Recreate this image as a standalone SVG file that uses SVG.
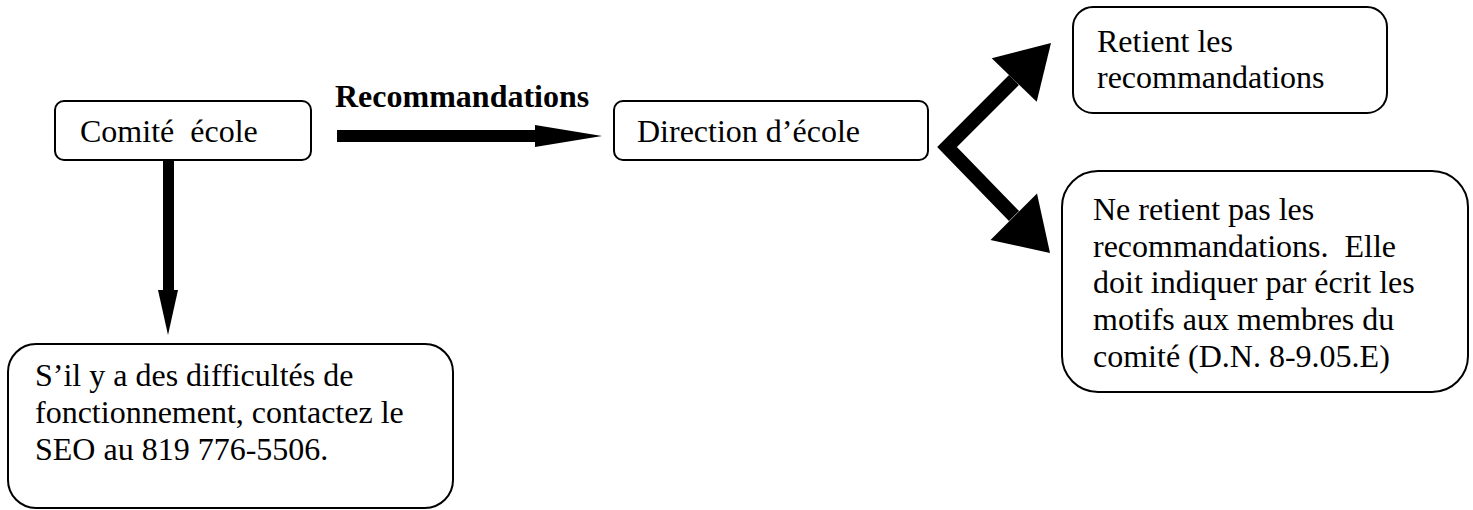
<svg xmlns="http://www.w3.org/2000/svg" width="1473" height="510" viewBox="0 0 1473 510">
<style>
.box{fill:#fff;stroke:#000;stroke-width:2}
.t{font-family:"Liberation Serif","Times New Roman",serif;font-size:32px;fill:#000}
.b{font-weight:bold}
.sh{fill:none;stroke:#000}
.hd{fill:#000}
</style>
<rect width="1473" height="510" fill="#fff"/>
<g id="connectors">
<rect class="hd" x="337" y="130" width="199" height="12"/>
<polygon class="hd" points="535,125 602,136 535,147"/>
<text class="t b" x="335" y="107">Recommandations</text>
<rect class="hd" x="163" y="160" width="11" height="131"/>
<polygon class="hd" points="158,290 178,290 168,335"/>
<polyline class="sh" stroke-width="14" stroke-linejoin="miter" points="1014,80 947,147 1014,216"/>
<polygon class="hd" points="1051,43 1036.7,101.7 991.7,58.3"/>
<polygon class="hd" points="1050,253 1037,193.5 990.5,240"/>
</g>
<g id="comite">
<rect class="box" x="55" y="101" width="256" height="59" rx="9"/>
<text class="t" x="80" y="142" xml:space="preserve">Comité  école</text>
</g>
<g id="direction">
<rect class="box" x="614" y="101" width="314" height="59" rx="9"/>
<text class="t" x="637" y="142">Direction d’école</text>
</g>
<g id="retient">
<rect class="box" x="1073" y="7" width="314" height="106" rx="20"/>
<text class="t" x="1097" y="52">Retient les</text>
<text class="t" x="1097" y="88">recommandations</text>
</g>
<g id="neretient">
<rect class="box" x="1062" y="171" width="406" height="221" rx="36"/>
<text class="t" x="1093" y="220">Ne retient pas les</text>
<text class="t" x="1093" y="257" xml:space="preserve">recommandations.  Elle</text>
<text class="t" x="1093" y="293">doit indiquer par écrit les</text>
<text class="t" x="1093" y="330">motifs aux membres du</text>
<text class="t" x="1093" y="367">comité (D.N. 8-9.05.E)</text>
</g>
<g id="difficultes">
<rect class="box" x="8" y="344" width="445" height="164" rx="28"/>
<text class="t" x="35" y="386">S’il y a des difficultés de</text>
<text class="t" x="35" y="423">fonctionnement, contactez le</text>
<text class="t" x="35" y="460">SEO au 819 776-5506.</text>
</g>
</svg>
